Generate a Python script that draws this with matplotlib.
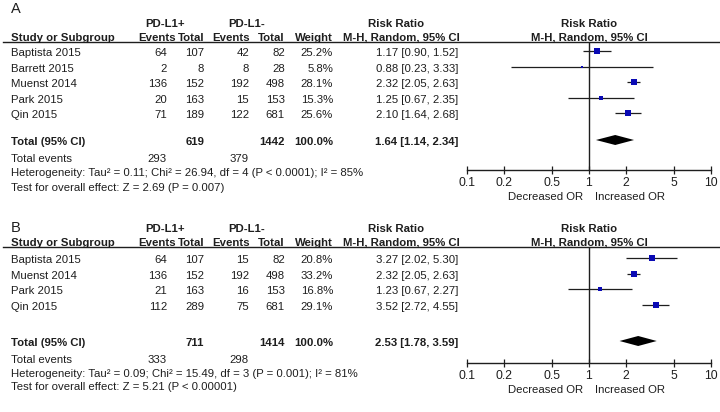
"""
森林图复现 - PD-L1 与风险比 (A/B 两组)
"""

import matplotlib
matplotlib.use('Agg')
import matplotlib.pyplot as plt
import numpy as np

plt.rcParams['font.family'] = ['Liberation Sans', 'DejaVu Sans']

# ---- 数据: A 组 ----
studies_a = ['Baptista 2015', 'Barrett 2015', 'Muenst 2014', 'Park 2015', 'Qin 2015']
ev_pos_a = [64, 2, 136, 20, 71]
tot_pos_a = [107, 8, 152, 163, 189]
ev_neg_a = [42, 8, 192, 15, 122]
tot_neg_a = [82, 28, 498, 153, 681]
weight_a = [25.2, 5.8, 28.1, 15.3, 25.6]
rr_a = [1.17, 0.88, 2.32, 1.25, 2.10]
lo_a = [0.90, 0.23, 2.05, 0.67, 1.64]
hi_a = [1.52, 3.33, 2.63, 2.35, 2.68]
pooled_a = [1.64, 1.14, 2.34]
sum_tot_a = [619, 1442]
sum_ev_a = [293, 379]
het_a = 'Heterogeneity: Tau² = 0.11; Chi² = 26.94, df = 4 (P < 0.0001); I² = 85%'
test_a = 'Test for overall effect: Z = 2.69 (P = 0.007)'

# ---- 数据: B 组 ----
studies_b = ['Baptista 2015', 'Muenst 2014', 'Park 2015', 'Qin 2015']
ev_pos_b = [64, 136, 21, 112]
tot_pos_b = [107, 152, 163, 289]
ev_neg_b = [15, 192, 16, 75]
tot_neg_b = [82, 498, 153, 681]
weight_b = [20.8, 33.2, 16.8, 29.1]
rr_b = [3.27, 2.32, 1.23, 3.52]
lo_b = [2.02, 2.05, 0.67, 2.72]
hi_b = [5.30, 2.63, 2.27, 4.55]
pooled_b = [2.53, 1.78, 3.59]
sum_tot_b = [711, 1414]
sum_ev_b = [333, 298]
het_b = 'Heterogeneity: Tau² = 0.09; Chi² = 15.49, df = 3 (P = 0.001); I² = 81%'
test_b = 'Test for overall effect: Z = 5.21 (P < 0.00001)'

axis_ticks = [0.1, 0.2, 0.5, 1, 2, 5, 10]
axis_labels = ['0.1', '0.2', '0.5', '1', '2', '5', '10']

W, H = 720, 412
TXT = '#1e1e1e'
BLUE = '#0a0ab4'
FS = 8.2

# 列位置 (像素, 右对齐)
X_STUDY = 11
X_EVP, X_TOTP, X_EVN, X_TOTN, X_W = 167, 204, 249, 285, 333
X_RR = 458
X_LOG0, X_LOG1 = 467, 711

fig = plt.figure(figsize=(W / 100, H / 100), dpi=100)
canvas = fig.add_axes([0, 0, 1, 1])
canvas.set_xlim(0, W)
canvas.set_ylim(H, 0)
canvas.axis('off')


def txt(x, y, s, ha='left', bold=False, **kw):
    canvas.text(x, y, s, ha=ha, va='center', fontsize=FS, color=TXT,
                fontweight='bold' if bold else 'normal', **kw)


def draw_panel(label, lay, studies, evp, totp, evn, totn, weight, rr, lo, hi,
               pooled, sum_tot, sum_ev, het, test):
    line = lay['line']
    canvas.text(16, lay['label'], label, ha='center', va='center', fontsize=10.5, color=TXT)

    # 表头
    h1, h2 = line - 18, line - 1.5
    txt(165, h1, 'PD-L1+', ha='center', bold=True)
    txt(247, h1, 'PD-L1-', ha='center', bold=True)
    txt(396, h1, 'Risk Ratio', ha='center', bold=True)
    txt(589, h1, 'Risk Ratio', ha='center', bold=True)
    for x, s, ha in [(X_STUDY, 'Study or Subgroup', 'left'), (X_EVP + 9, 'Events', 'right'),
                     (X_TOTP, 'Total', 'right'), (X_EVN + 1, 'Events', 'right'),
                     (X_TOTN, 'Total', 'right'), (X_W, 'Weight', 'right'),
                     (X_RR + 2, 'M-H, Random, 95% CI', 'right'), (589, 'M-H, Random, 95% CI', 'center')]:
        canvas.text(x, h2, s, ha=ha, va='baseline', fontsize=FS, color=TXT, fontweight='bold')
    canvas.plot([3, W], [line, line], color=TXT, lw=1)

    # 各研究行
    ys = [lay['row0'] + 15.6 * i for i in range(len(studies))]
    for i, y in enumerate(ys):
        txt(X_STUDY, y, studies[i])
        txt(X_EVP, y, str(evp[i]), ha='right')
        txt(X_TOTP, y, str(totp[i]), ha='right')
        txt(X_EVN, y, str(evn[i]), ha='right')
        txt(X_TOTN, y, str(totn[i]), ha='right')
        txt(X_W, y, f'{weight[i]:.1f}%', ha='right')
        txt(X_RR, y, f'{rr[i]:.2f} [{lo[i]:.2f}, {hi[i]:.2f}]', ha='right')

    # 合计
    yt = lay['total']
    txt(X_STUDY, yt, 'Total (95% CI)', bold=True)
    txt(X_TOTP, yt, str(sum_tot[0]), ha='right', bold=True)
    txt(X_TOTN, yt, str(sum_tot[1]), ha='right', bold=True)
    txt(X_W, yt, '100.0%', ha='right', bold=True)
    txt(X_RR, yt, f'{pooled[0]:.2f} [{pooled[1]:.2f}, {pooled[2]:.2f}]', ha='right', bold=True)
    txt(X_STUDY, lay['events'], 'Total events')
    txt(X_EVP, lay['events'], str(sum_ev[0]), ha='right')
    txt(X_EVN, lay['events'], str(sum_ev[1]), ha='right')
    txt(X_STUDY, lay['het'], het)
    txt(X_STUDY, lay['test'], test)

    # 森林图
    ax_y = lay['axis']
    ax = fig.add_axes([X_LOG0 / W, (H - ax_y) / H, (X_LOG1 - X_LOG0) / W, (ax_y - line) / H])
    ax.set_xscale('log')
    ax.set_xlim(0.1, 10)
    ax.set_ylim(ax_y, line)
    ax.patch.set_alpha(0)
    for s in ['top', 'left', 'right']:
        ax.spines[s].set_visible(False)
    ax.spines['bottom'].set_color(TXT)
    ax.spines['bottom'].set_linewidth(1)
    ax.axvline(1, color=TXT, lw=1)
    for i, y in enumerate(ys):
        ax.hlines(y - 2, lo[i], hi[i], color=TXT, lw=0.9)
        side = 1.2 * np.sqrt(weight[i])
        ax.plot(rr[i], y - 2, 's', color=BLUE, markersize=side * 0.72, markeredgewidth=0)
    yd = yt - 2
    ax.fill([pooled[1], pooled[0], pooled[2], pooled[0]], [yd, yd - 5, yd, yd + 5],
            color='black', lw=0)
    ax.set_yticks([])
    ax.set_xticks(axis_ticks)
    ax.set_xticklabels(axis_labels)
    ax.minorticks_off()
    ax.tick_params(axis='x', direction='inout', length=6, width=0.9, colors=TXT,
                   labelsize=8.8, pad=2)
    ax.annotate('Decreased OR', xy=(1, ax_y + 27), xytext=(-4, 0), textcoords='offset points',
                ha='right', va='center', fontsize=FS, color=TXT, annotation_clip=False)
    ax.annotate('Increased OR', xy=(1, ax_y + 27), xytext=(4, 0), textcoords='offset points',
                ha='left', va='center', fontsize=FS, color=TXT, annotation_clip=False)


lay_a = dict(label=9, line=42, row0=53, total=142, events=159, het=173, test=188, axis=170)
lay_b = dict(label=228, line=247, row0=260, total=343, events=360, het=374, test=387, axis=363)

draw_panel('A', lay_a, studies_a, ev_pos_a, tot_pos_a, ev_neg_a, tot_neg_a, weight_a,
           rr_a, lo_a, hi_a, pooled_a, sum_tot_a, sum_ev_a, het_a, test_a)
draw_panel('B', lay_b, studies_b, ev_pos_b, tot_pos_b, ev_neg_b, tot_neg_b, weight_b,
           rr_b, lo_b, hi_b, pooled_b, sum_tot_b, sum_ev_b, het_b, test_b)

plt.savefig('out.png', dpi=100)
